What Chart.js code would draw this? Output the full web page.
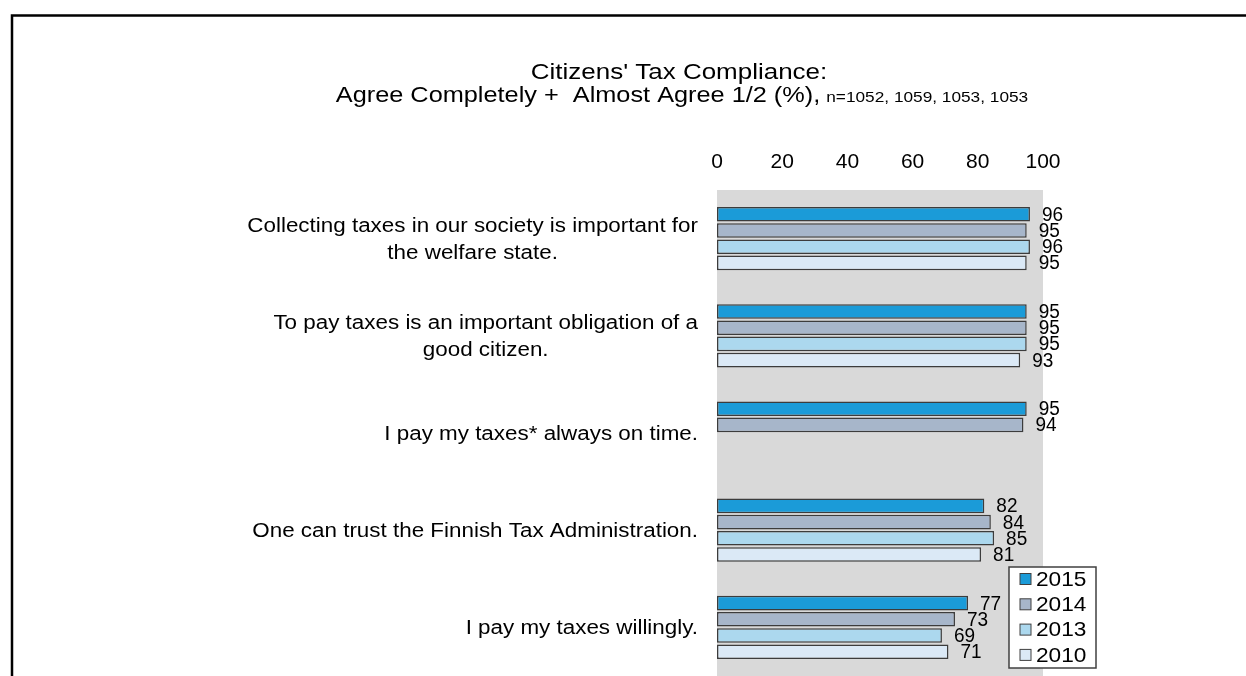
<!DOCTYPE html>
<html>
<head>
<meta charset="utf-8">
<script src="https://cdn.jsdelivr.net/npm/chart.js@4"></script>
<style>
  html, body { margin: 0; padding: 0; background: #fff; }
  canvas { display: block; }
</style>
</head>
<body>
<canvas id="myChart" width="1246" height="676"></canvas>
<script>
const titleLine1 = "Citizens' Tax Compliance:";
const titleLine2 = 'Agree Completely +  Almost Agree 1/2 (%),';
const titleNote = 'n=1052, 1059, 1053, 1053';

const categories = [
    ['Collecting taxes in our society is important for', 'the welfare state.'],
    ['To pay taxes is an important obligation of a', 'good citizen.'],
    ['I pay my taxes* always on time.'],
    ['One can trust the Finnish Tax Administration.'],
    ['I pay my taxes willingly.']
];
const years = ['2015', '2014', '2013', '2010'];
const values2015 = [96, 95, 95, 82, 77];
const values2014 = [95, 95, 94, 84, 73];
const values2013 = [96, 95, null, 85, 69];
const values2010 = [95, 93, null, 81, 71];
const xTicks = [0, 20, 40, 60, 80, 100];

const colors = ['#1b9bd8', '#a7b6ca', '#acd8ee', '#dbe9f6'];
const FONT = '"Liberation Sans", Arial, sans-serif';

const ctx = document.getElementById('myChart').getContext('2d');

// text in the picture is a bit wider than plain Arial, so stretch it
function wideText(c, text, x, y, sx, align) {
    c.save();
    c.translate(x, y);
    c.scale(sx, 1);
    c.textAlign = align;
    c.fillText(text, 0, 0);
    c.restore();
}

const decor = {
    id: 'decor',
    beforeDraw(chart) {
        const c = chart.ctx, a = chart.chartArea;
        c.save();
        c.fillStyle = '#fff';
        c.fillRect(0, 0, chart.width, chart.height);
        c.fillStyle = '#d9d9d9';
        c.fillRect(a.left, a.top, a.right - a.left, a.bottom - a.top);

        // frame
        c.strokeStyle = '#000';
        c.lineWidth = 2.5;
        c.beginPath();
        c.moveTo(12, chart.height);
        c.lineTo(12, 15.5);
        c.lineTo(chart.width, 15.5);
        c.stroke();

        // title
        const sx = 1.15, cx = 682;
        c.fillStyle = '#000';
        c.textBaseline = 'alphabetic';
        c.font = '22px ' + FONT;
        wideText(c, titleLine1, 679, 79, 1.18, 'center');
        const w1 = c.measureText(titleLine2).width * sx;
        c.font = '15px ' + FONT;
        const w2 = c.measureText(titleNote).width * sx;
        const gap = 6;
        const x0 = cx - (w1 + gap + w2) / 2;
        c.font = '22px ' + FONT;
        wideText(c, titleLine2, x0, 102, sx, 'left');
        c.font = '15px ' + FONT;
        wideText(c, titleNote, x0 + w1 + gap, 102, sx, 'left');
        c.restore();
    },
    afterDatasetsDraw(chart) {
        const c = chart.ctx;
        c.save();
        c.fillStyle = '#000';
        c.font = '20px ' + FONT;
        c.textBaseline = 'middle';
        chart.data.datasets.forEach((ds, i) => {
            chart.getDatasetMeta(i).data.forEach((bar, j) => {
                if (ds.data[j] == null) return;
                wideText(c, String(ds.data[j]), bar.x + 12, bar.y + 1, 0.95, 'left');
            });
        });
        c.restore();
    },
    afterDraw(chart) {
        const c = chart.ctx, a = chart.chartArea;
        const yScale = chart.scales.y;
        c.save();
        c.fillStyle = '#000';
        c.textBaseline = 'middle';

        // category labels: block right-aligned, lines centred to each other
        const sx = 1.12, lineH = 27;
        c.font = '20px ' + FONT;
        categories.forEach((lines, i) => {
            const y = yScale.getPixelForValue(i);
            const widest = Math.max(...lines.map(t => c.measureText(t).width)) * sx;
            const mid = a.left - 19 - widest / 2;
            lines.forEach((t, k) => {
                const ly = y + (k - (lines.length - 1) / 2) * lineH + 1;
                wideText(c, t, mid, ly, sx, 'center');
            });
        });

        // legend
        const bx = a.right - 34, by = a.bottom - 109, bw = 87, bh = 101;
        c.fillStyle = '#fff';
        c.fillRect(bx, by, bw, bh);
        c.strokeStyle = '#404040';
        c.lineWidth = 1.5;
        c.strokeRect(bx, by, bw, bh);
        c.font = '21px ' + FONT;
        chart.data.datasets.forEach((ds, i) => {
            const ry = by + 12 + i * 25.3;
            c.fillStyle = ds.backgroundColor;
            c.fillRect(bx + 11, ry - 5.5, 11, 11);
            c.strokeStyle = '#404040';
            c.lineWidth = 1;
            c.strokeRect(bx + 11, ry - 5.5, 11, 11);
            c.fillStyle = '#000';
            wideText(c, ds.label, bx + 27, ry + 1, 1.08, 'left');
        });
        c.restore();
    }
};

const seriesValues = [values2015, values2014, values2013, values2010];

var graphData = {
    type: 'bar',
    data: {
        labels: categories,
        datasets: years.map((y, i) => ({
            label: y,
            data: seriesValues[i],
            backgroundColor: colors[i],
            borderColor: '#3c3c3c',
            borderWidth: 1.5,
            borderSkipped: false,
            categoryPercentage: 0.667,
            barPercentage: 0.9
        }))
    },
    options: {
        indexAxis: 'y',
        responsive: false,
        animation: false,
        devicePixelRatio: 1,
        layout: { padding: { left: 0, right: 203, top: 0, bottom: 0 } },
        plugins: {
            legend: { display: false },
            title: { display: false },
            tooltip: { enabled: false }
        },
        scales: {
            x: {
                position: 'top',
                min: 0,
                max: 100,
                afterBuildTicks: (scale) => { scale.ticks = xTicks.map(v => ({ value: v })); },
                afterFit: (scale) => { scale.height = 190; },
                grid: { display: false, drawTicks: false },
                border: { display: false },
                ticks: { color: '#000', font: { family: FONT, size: 21 }, padding: 15, maxRotation: 0 }
            },
            y: {
                afterFit: (scale) => { scale.width = 717; },
                grid: { display: false },
                border: { display: false },
                ticks: { display: false }
            }
        }
    },
    plugins: [decor]
};

const myChart = new Chart(ctx, graphData);
</script>
</body>
</html>
